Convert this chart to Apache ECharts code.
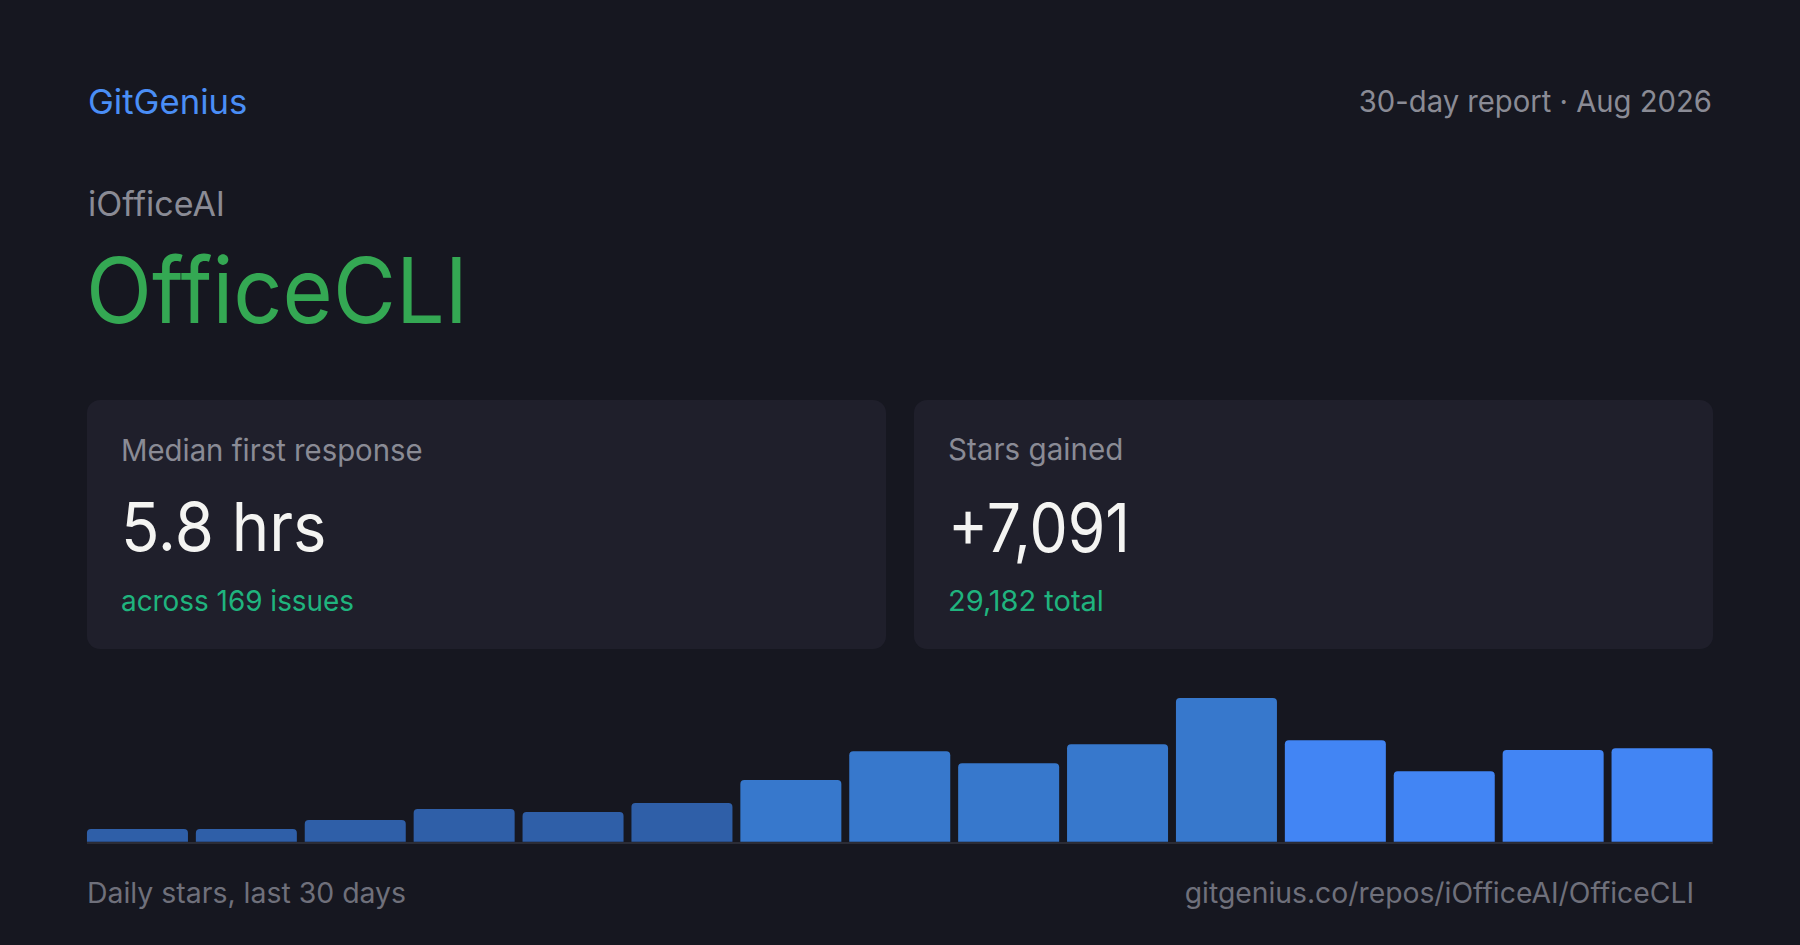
<!DOCTYPE html>
<html>
<head>
<meta charset="utf-8">
<script src="https://cdn.jsdelivr.net/npm/echarts@6/dist/echarts.min.js"></script>
<style>
html,body{margin:0;padding:0;background:#161720;}
#chart{width:1800px;height:945px;}
</style>
</head>
<body>
<div id="chart"></div>
<script>
// Data
const categories = ['1','2','3','4','5','6','7','8','9','10','11','12','13','14','15'];
const dailyStars = [92, 92, 157, 237, 215, 280, 447, 657, 570, 708, 1043, 737, 512, 665, 679];
const brand = 'GitGenius';
const reportLabel = '30-day report · Aug 2026';
const owner = 'iOfficeAI';
const repo = 'OfficeCLI';
const cardLabels = ['Median first response', 'Stars gained'];
const cardValues = ['5.8 hrs', '+7,091'];
const cardSubs = ['across 169 issues', '29,182 total'];
const footerLeft = 'Daily stars, last 30 days';
const footerRight = 'gitgenius.co/repos/iOfficeAI/OfficeCLI';

const FONT = 'Inter, "Noto Sans", sans-serif';
const barColors = ['#2f5fa8', '#3778cc', '#4285f4'];

function txt(x, baseline, fs, text, color, align, sx) {
  return {
    type: 'text', x: x, y: baseline - 0.32 * fs, scaleX: sx || 1,
    style: { text: text, fill: color, font: '400 ' + fs + 'px ' + FONT,
             align: align || 'left', verticalAlign: 'middle' },
    z: 10
  };
}

const chart = echarts.init(document.getElementById('chart'), null, { renderer: 'svg' });
const graphics = [
  { type: 'rect', shape: { x: 87, y: 400, width: 799, height: 249, r: 13 }, style: { fill: '#1f1f2b' }, z: 1 },
  { type: 'rect', shape: { x: 914, y: 400, width: 799, height: 249, r: 13 }, style: { fill: '#1f1f2b' }, z: 1 },
  { type: 'rect', shape: { x: 87, y: 842, width: 1626, height: 2 }, style: { fill: '#2b2c36' }, z: 1 },
  txt(88, 113, 34, brand, '#4a8ef6', 'left', 1.02),
  txt(1712, 110.5, 30, reportLabel, '#8a8b95', 'right', 0.975),
  txt(88, 214, 34, owner, '#8a8b95'),
  txt(86, 318.5, 91, repo, '#34a853', 'left', 0.948),
  txt(121, 459, 30, cardLabels[0], '#8a8b95', 'left', 0.978),
  txt(121, 548.5, 67, cardValues[0], '#f4f4f2', 'left', 0.946),
  txt(121, 610, 29, cardSubs[0], '#1fb47e', 'left', 0.962),
  txt(948, 459, 30, cardLabels[1], '#8a8b95', 'left', 0.987),
  txt(948, 548.5, 67, cardValues[1], '#f4f4f2', 'left', 0.905),
  txt(948, 610, 29, cardSubs[1], '#1fb47e'),
  txt(87, 902, 28, footerLeft, '#6f707b', 'left', 1.015),
  txt(1694, 902, 28, footerRight, '#6f707b', 'right', 1.011)
];

chart.setOption({
  backgroundColor: '#161720',
  animation: false,
  grid: { left: 83, right: 1800 - 1716.5, top: 698, bottom: 945 - 841.7 },
  xAxis: {
    type: 'category', data: categories,
    axisLine: { show: false }, axisTick: { show: false }, axisLabel: { show: false }, splitLine: { show: false }
  },
  yAxis: {
    type: 'value', min: 0, max: 1043,
    axisLine: { show: false }, axisTick: { show: false }, axisLabel: { show: false }, splitLine: { show: false }
  },
  graphic: graphics,
  series: [{
    type: 'bar', data: dailyStars, barWidth: 101,
    itemStyle: {
      borderRadius: [4, 4, 0, 0],
      color: function (p) { return p.dataIndex < 6 ? barColors[0] : (p.dataIndex < 11 ? barColors[1] : barColors[2]); }
    }
  }]
});
</script>
</body>
</html>
